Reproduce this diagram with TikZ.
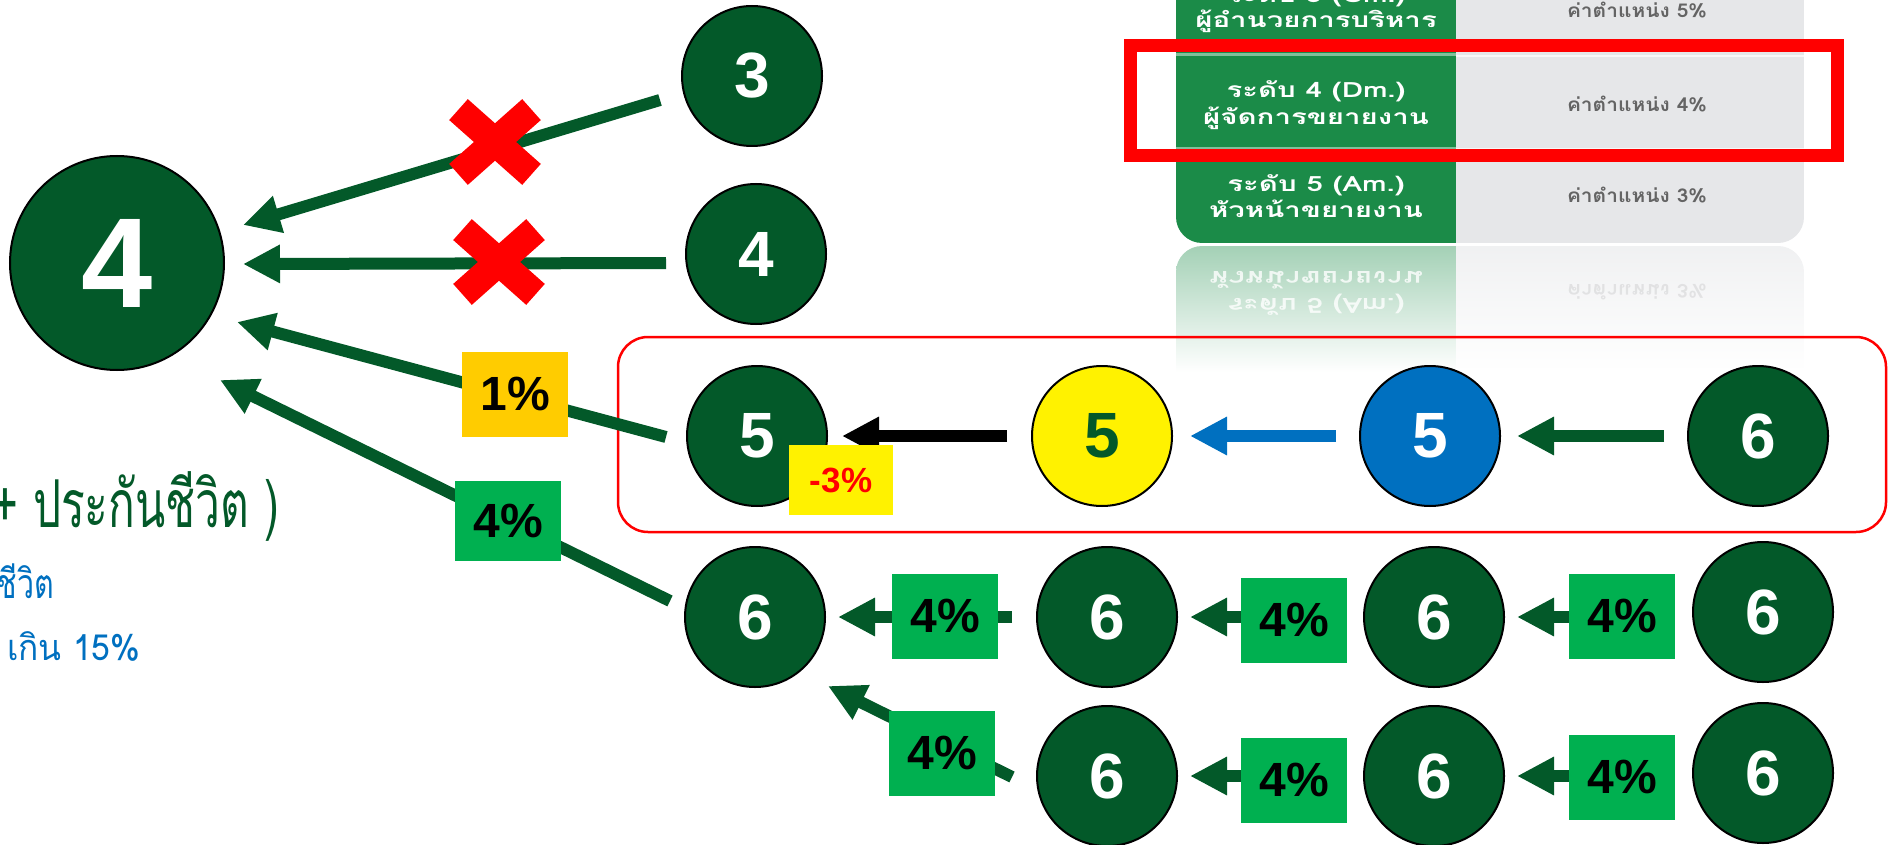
\documentclass[tikz,border=0pt]{standalone}
\usepackage{fontspec}
\usepackage{graphicx}
\setmainfont{Liberation Sans}
\newfontfamily\thaifont[Script=Thai]{Loma}
\usetikzlibrary{arrows.meta,calc}
\definecolor{dkgreen}{RGB}{3,89,41}
\definecolor{boxgreen}{RGB}{0,176,80}
\definecolor{amber}{RGB}{255,204,0}
\definecolor{cblue}{RGB}{0,112,192}
\definecolor{tgreen}{RGB}{27,139,72}
\definecolor{tgray}{RGB}{230,231,233}
\definecolor{tgtext}{RGB}{100,100,100}
\newcommand{\hxs}[2]{\scalebox{#1}[1]{#2}}
\tikzset{
  num/.style={circle, draw=black, line width=2pt, fill=dkgreen, text=white, minimum size=140pt, inner sep=0pt, font=\bfseries\fontsize{64}{64}\selectfont},
  pct/.style={fill=boxgreen, minimum width=106pt, minimum height=85pt, inner sep=0pt, font=\bfseries\fontsize{48}{48}\selectfont, text=black},
  arr/.style={line width=12pt, -{Triangle[length=37pt,width=36pt]}, draw=dkgreen},
  xmark/.style={draw=red, line width=28pt},
  tleft/.style={anchor=base, inner sep=0pt, text=white, font=\thaifont\bfseries\fontsize{21}{21}\selectfont},
  tright/.style={anchor=base, inner sep=0pt, text=tgtext, font=\thaifont\bfseries\fontsize{19}{19}\selectfont},
  redx/.pic={\draw[xmark] (-36.5,-32.4) -- (36.5,32.4); \draw[xmark] (-36.5,32.4) -- (36.5,-32.4);}
}
\begin{document}
\begin{tikzpicture}[x=1pt,y=-1pt]
\useasboundingbox (0,0) rectangle (1889,845);
\clip (0,0) rectangle (1889,845);

% ---- table (top right) ----
\begin{scope}
  \clip[rounded corners=26pt] (1176,-60) rectangle (1804,243);
  \fill[tgreen] (1176,-60) rectangle (1456,243);
  \fill[tgray] (1456,-60) rectangle (1804,243);
  \draw[tgreen!55!white, line width=3pt] (1176,55) -- (1456,55);
  \draw[tgreen!55!white, line width=2pt] (1176,148) -- (1456,148);
  \draw[white!70!tgray, line width=2pt] (1456,56) -- (1804,56);
  \draw[white!70!tgray, line width=2pt] (1456,149) -- (1804,149);
\end{scope}
\node[tleft] (t1a) at (1316,3) {\hxs{1.4}{ระดับ 3 (Gm.)}};
\node[tleft] (t1b) at (1316,28) {\hxs{1.4}{ผู้อำนวยการบริหาร}};
\node[tright] (t1c) at (1637,18) {\hxs{1.1}{ค่าตำแหน่ง 5\%}};
\node[tleft] (t2a) at (1316,98) {\hxs{1.4}{ระดับ 4 (Dm.)}};
\node[tleft] (t2b) at (1316,125) {\hxs{1.4}{ผู้จัดการขยายงาน}};
\node[tright] (t2c) at (1637,112) {\hxs{1.1}{ค่าตำแหน่ง 4\%}};
\node[tleft] (t3a) at (1316,192) {\hxs{1.4}{ระดับ 5 (Am.)}};
\node[tleft] (t3b) at (1316,217) {\hxs{1.4}{หัวหน้าขยายงาน}};
\node[tright] (t3c) at (1637,203) {\hxs{1.1}{ค่าตำแหน่ง 3\%}};
% reflection
\begin{scope}
  \clip[rounded corners=26pt] (1176,246) rectangle (1804,420);
  \shade[top color=tgreen!40!white, bottom color=white] (1176,246) rectangle (1456,372);
  \shade[top color=tgray!60!white, bottom color=white] (1456,246) rectangle (1804,372);
\end{scope}
\node[tleft, anchor=center, text=white, opacity=0.8] (r3b) at (1316,280) {\scalebox{1.4}[-1]{หัวหน้าขยายงาน}};
\node[tleft, anchor=center, text=white, opacity=0.8] (r3a) at (1316,305) {\scalebox{1.4}[-1]{ระดับ 5 (Am.)}};
\node[tright, anchor=center, text=tgray!85!black, opacity=0.4] (r3c) at (1637,292) {\scalebox{1.1}[-1]{ค่าตำแหน่ง 3\%}};
\draw[red, line width=13pt] (1130.5,45.5) rectangle (1837,155.5);

% ---- left texts ----
\node[anchor=base east, inner sep=0pt, text=dkgreen, font=\thaifont\fontsize{66}{66}\selectfont] (ins) at (279,527) {\hxs{0.67}{+ ประกันชีวิต )}};
\node[anchor=base east, inner sep=0pt, text=cblue, font=\thaifont\fontsize{41}{41}\selectfont] (life) at (54,598) {\hxs{0.74}{ชีวิต}};
\node[anchor=base west, inner sep=0pt, text=cblue, font=\thaifont\fontsize{36}{36}\selectfont] (lim) at (7,660) {\hxs{0.93}{เกิน 15\%}};

% ---- red rounded frame ----
\draw[red, line width=2.5pt, rounded corners=30pt] (618,337) rectangle (1886,532);

% ---- circles ----
\node[num, minimum size=214pt, font=\bfseries\fontsize{128}{128}\selectfont] (big) at (117,263) {4};
\node[num] (c3) at (752,76) {3};
\node[num] (c4) at (756,254) {4};
\node[num] (c5a) at (757,436) {5};
\node[num, fill=yellow, text=dkgreen] (c5y) at (1102,436) {5};
\node[num, fill=cblue] (c5b) at (1430,436) {5};
\node[num] (c6) at (1758,436) {6};
\node[num] (r4a) at (755,617) {6};
\node[num] (r4b) at (1107,617) {6};
\node[num] (r4c) at (1434,617) {6};
\node[num] (r4d) at (1763,612) {6};
\node[num] (r5b) at (1107,776) {6};
\node[num] (r5c) at (1434,776) {6};
\node[num] (r5d) at (1763,773) {6};

% ---- arrows ----
\draw[arr] ([shift={(-92,24)}]c3.center) -- ([shift={(126,-38)}]big.center);
\draw[arr] ([shift={(-90,9)}]c4.center) -- ([shift={(126,1)}]big.center);
\draw[arr] ([shift={(-91,1)}]c5a.center) -- ([shift={(120,59)}]big.center);
\draw[arr] ([shift={(-85,-16)}]r4a.center) -- ([shift={(103,117)}]big.center);

\draw[arr, draw=black] ([shift={(-95,0)}]c5y.center) -- ([shift={(85,0)}]c5a.center);
\draw[arr, draw=cblue] ([shift={(-94,0)}]c5b.center) -- ([shift={(88,0)}]c5y.center);
\draw[arr] ([shift={(-94,0)}]c6.center) -- ([shift={(87,0)}]c5b.center);

\draw[arr] ([shift={(-95,0)}]r4b.center) -- ([shift={(83,0)}]r4a.center);
\draw[arr] ([shift={(-95,0)}]r4c.center) -- ([shift={(83,0)}]r4b.center);
\draw[arr] ([shift={(-95,5)}]r4d.center) -- ([shift={(83,0)}]r4c.center);

\draw[arr] ([shift={(-95,0)}]r5c.center) -- ([shift={(83,0)}]r5b.center);
\draw[arr] ([shift={(-95,3)}]r5d.center) -- ([shift={(83,0)}]r5c.center);
\draw[arr] ([shift={(-95,1)}]r5b.center) -- ([shift={(73,69)}]r4a.center);

% ---- red crosses ----
\pic at (495,142) {redx};
\pic at (499,262) {redx};

% ---- percentage labels ----
\node[pct, fill=amber] (p1) at (515,394) {1\%};
\node[pct, minimum height=80pt] (p4) at (508,521) {4\%};
\node[pct, fill=yellow, text=red, minimum width=104pt, minimum height=70pt, font=\bfseries\fontsize{35}{35}\selectfont] (m3) at (841,480) {-3\%};
\node[pct] (q1) at (945,616) {4\%};
\node[pct] (q2) at (1294,620) {4\%};
\node[pct] (q3) at (1622,616) {4\%};
\node[pct] (s1) at (942,753) {4\%};
\node[pct] (s2) at (1294,780) {4\%};
\node[pct] (s3) at (1622,777) {4\%};
\end{tikzpicture}
\end{document}
